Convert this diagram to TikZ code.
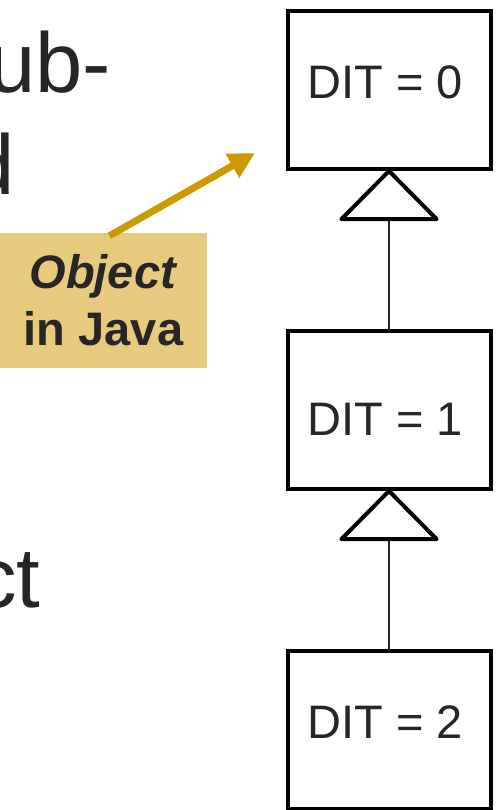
\documentclass[tikz,border=0pt]{standalone}
\usepackage{fontspec}
\setmainfont{Liberation Sans}
\usetikzlibrary{arrows.meta}
\definecolor{ink}{HTML}{262626}
\definecolor{gold}{HTML}{CC9900}
\definecolor{tan}{HTML}{E6CB7F}
\tikzset{
  classbox/.style={draw=black, line width=4pt, fill=white, minimum width=203pt,
    minimum height=158pt, inner sep=0pt, outer sep=0pt},
  boxlabel/.style={inner sep=0pt, text=ink, font=\fontsize{47}{47}\selectfont},
  inherit/.style={line width=1.5pt, draw=ink,
    -{Triangle[length=53pt, width=104pt, line width=4pt, fill=white, round, color=black]}},
  bigtext/.style={anchor=base west, inner sep=0pt, text=ink,
    font=\fontsize{85}{85}\selectfont},
  callout/.style={fill=tan, minimum width=207pt, minimum height=135pt, inner sep=0pt,
    align=center, text=ink, font=\fontsize{47}{57}\selectfont\bfseries},
  pointer/.style={draw=gold, line width=7pt, -{Triangle[length=26pt, width=26pt]}}
}
\begin{document}
\begin{tikzpicture}[x=1pt, y=-1pt]
  \useasboundingbox (0,0) rectangle (497,810);
  \clip (0,0) rectangle (497,810);
  \fill[white] (0,0) rectangle (497,810);

  % slide text running in from the left
  \node[bigtext] (l1) at (-12,93) {ub-};
  \node[bigtext] (l2) at (-33,195) {d};
  \node[bigtext] (l3) at (-26,607) {ct};

  % class hierarchy
  \node[classbox] (c0) at (389,90) {};
  \node[classbox] (c1) at (389,410) {};
  \node[classbox] (c2) at (389,730) {};
  \node[boxlabel, anchor=base] (t0) at (385,99) {DIT = 0};
  \node[boxlabel, anchor=base] (t1) at (385,435) {DIT = 1};
  \node[boxlabel, anchor=base] (t2) at (385,738) {DIT = 2};
  \draw[inherit] (c1.north) -- (c0.south);
  \draw[inherit] (c2.north) -- (c1.south);

  % annotation
  \node[callout] (note) at (103.5,300.5) {\textit{Object}\\in Java};
  \coordinate (target) at (255,153);
  \draw[pointer] ([xshift=6pt,yshift=-3pt]note.north) -- (target);
\end{tikzpicture}
\end{document}
